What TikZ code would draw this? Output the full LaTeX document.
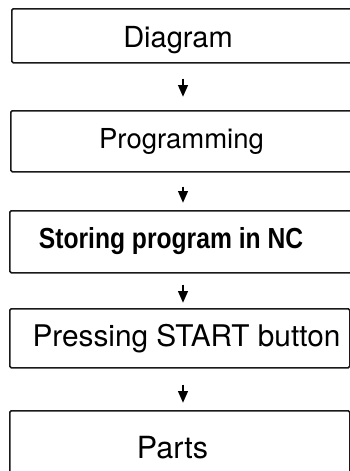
\documentclass[tikz,border=0pt]{standalone}
\usepackage{fontspec}
\setmainfont{TeX Gyre Heros}
\newfontfamily\boldlab[FakeStretch=0.85]{Liberation Sans Bold}
\usetikzlibrary{arrows.meta}
\begin{document}
\begin{tikzpicture}[x=1pt,y=-1pt,
  stepbox/.style={draw=black!90, line width=1.6pt, rounded corners=1.5pt,
    inner sep=0pt, anchor=north west},
  lab/.style={anchor=base, inner sep=0pt, font=\fontsize{29}{32}\selectfont},
  flow/.style={line width=2.6pt, -{Triangle[width=9.5pt,length=12pt]}}]
\useasboundingbox (0,0) rectangle (350,471);
\clip (0,0) rectangle (350,471);

% process boxes
\node[stepbox, minimum width=341pt, minimum height=54pt] (b1) at (11,8) {};
\node[stepbox, minimum width=342pt, minimum height=61pt] (b2) at (10,110) {};
\node[stepbox, minimum width=343pt, minimum height=62pt] (b3) at (9,210) {};
\node[stepbox, minimum width=340pt, minimum height=59pt] (b4) at (9,308) {};
\node[stepbox, minimum width=340pt, minimum height=70pt] (b5) at (9,410) {};

% box texts
\node[lab] (t1) at (178,47) {Diagram};
\node[lab, font=\fontsize{27.5}{30}\selectfont] (t2) at (181.5,148) {Programming};
\node[lab, font=\boldlab\fontsize{29}{32}\selectfont] (t3) at (171,248) {Storing program in NC};
\node[lab, font=\fontsize{29.8}{33}\selectfont] (t4) at (186.5,346) {Pressing START button};
\node[lab, font=\fontsize{30.5}{33}\selectfont] (t5) at (172.5,458) {Parts};

% connectors
\coordinate (ax) at (183,0);
\draw[flow, shorten <=15pt, shorten >=13pt] (b1.south -| ax) -- (b2.north -| ax);
\draw[flow, shorten <=14pt, shorten >=7pt] (b2.south -| ax) -- (b3.north -| ax);
\draw[flow, shorten <=11pt, shorten >=5pt] (b3.south -| ax) -- (b4.north -| ax);
\draw[flow, shorten <=16pt, shorten >=7pt] (b4.south -| ax) -- (b5.north -| ax);
\end{tikzpicture}
\end{document}
